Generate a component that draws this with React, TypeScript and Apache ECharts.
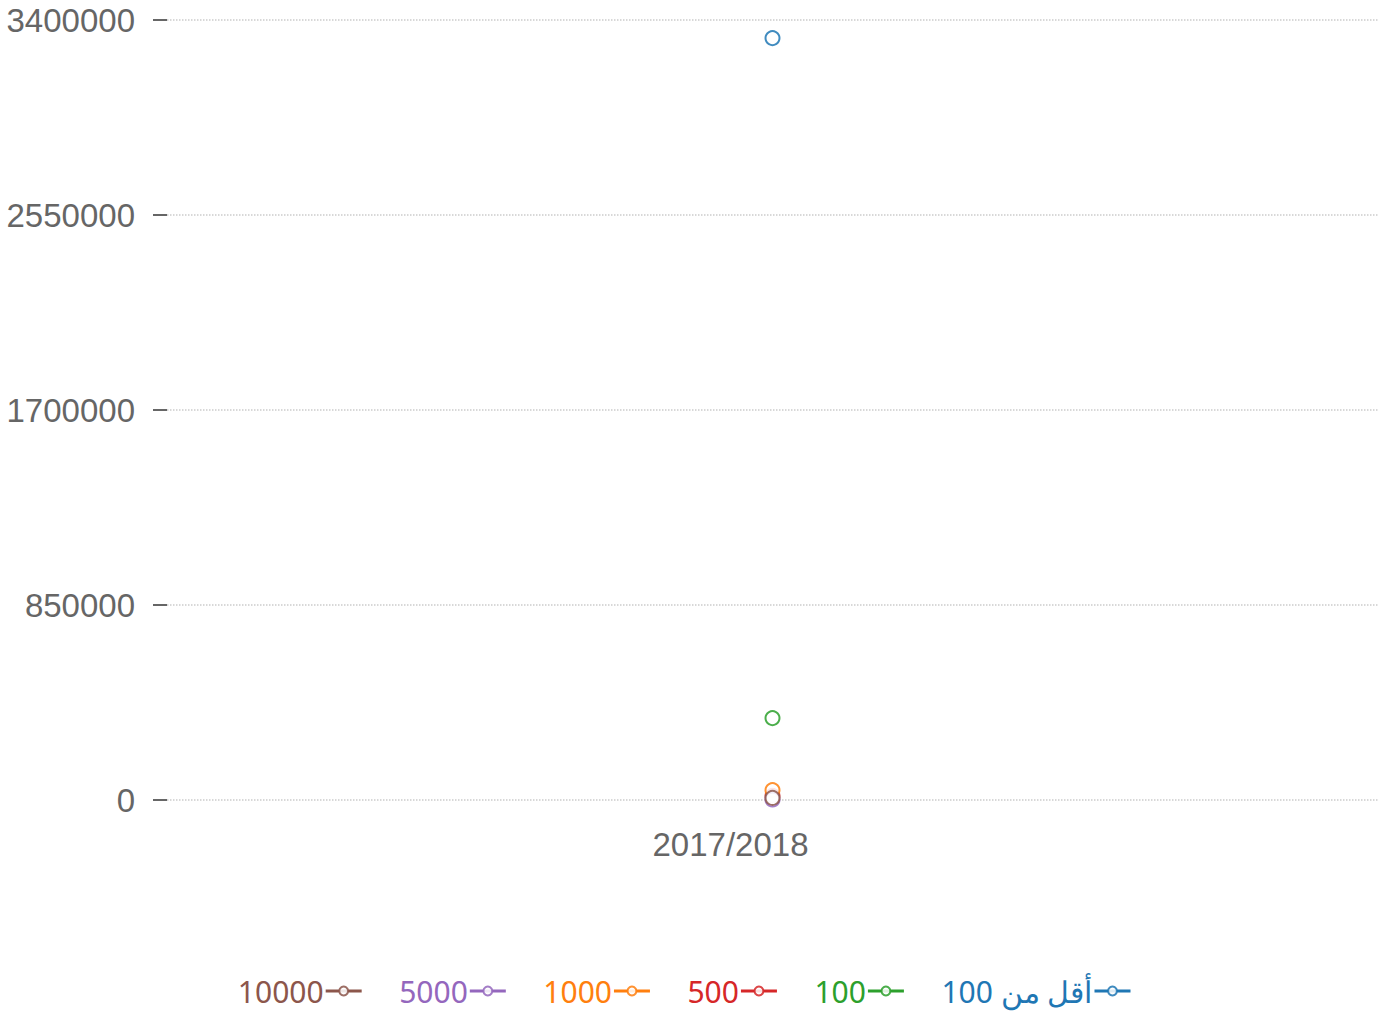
import React, { useEffect, useRef } from "react";
import * as echarts from "echarts";

const categories = ["2017/2018"];
const seriesNames = ["أقل من 100", "100", "500", "1000", "5000", "10000"];
const seriesColors = ["#1f77b4", "#2ca02c", "#d62728", "#ff7f0e", "#9467bd", "#8c564b"];
const seriesValues = [[3321000], [357000], [18000], [43000], [2000], [9000]];
const yTicks = [0, 850000, 1700000, 2550000, 3400000];

export default function App() {
  const ref = useRef<HTMLDivElement>(null);
  useEffect(() => {
    if (!ref.current) return;
    const chart = echarts.init(ref.current, null, { renderer: "svg" });
    const legendData = seriesNames
      .map((n, i) => ({ name: n, textStyle: { color: seriesColors[i] } }))
      .reverse();
    chart.setOption({
      animation: false,
      grid: { left: 167, right: 10, top: 20, bottom: 216, containLabel: false },
      legend: {
        data: legendData,
        bottom: 5,
        right: 251,
        align: "right",
        itemGap: 36,
        itemWidth: 36,
        itemHeight: 11,
        lineStyle: { width: 3 },
        itemStyle: { borderWidth: 3 },
        textStyle: { fontFamily: "Noto Sans", fontSize: 30, padding: [0, -3, 0, 0] },
      },
      xAxis: {
        type: "category",
        data: categories,
        boundaryGap: true,
        axisLine: { show: false },
        axisTick: { show: false },
        axisLabel: {
          color: "#666",
          fontSize: 33,
          fontFamily: "Liberation Sans",
          margin: 28,
          padding: [0, 84, 0, 0],
        },
      },
      yAxis: {
        type: "value",
        min: yTicks[0],
        max: yTicks[yTicks.length - 1],
        interval: 850000,
        axisLine: { show: false },
        axisTick: { show: true, length: 14, lineStyle: { color: "#666", width: 2 } },
        axisLabel: {
          color: "#666",
          fontSize: 33,
          fontFamily: "Liberation Sans",
          margin: 32,
          formatter: (v: number) => String(v),
        },
        splitLine: { show: true, lineStyle: { color: "#ccc", type: "dotted", width: 1.5 } },
      },
      series: seriesNames.map((n, i) => ({
        name: n,
        type: "line",
        data: seriesValues[i],
        symbol: "emptyCircle",
        symbolSize: 14,
        color: seriesColors[i],
        itemStyle: { color: seriesColors[i], borderWidth: 2.5, opacity: 0.85 },
        lineStyle: { width: 3, color: seriesColors[i] },
      })),
    });
    return () => chart.dispose();
  }, []);
  return (
    <div
      ref={ref}
      style={{ position: "fixed", left: 0, top: 0, width: 1388, height: 1016, background: "#fff" }}
    />
  );
}
